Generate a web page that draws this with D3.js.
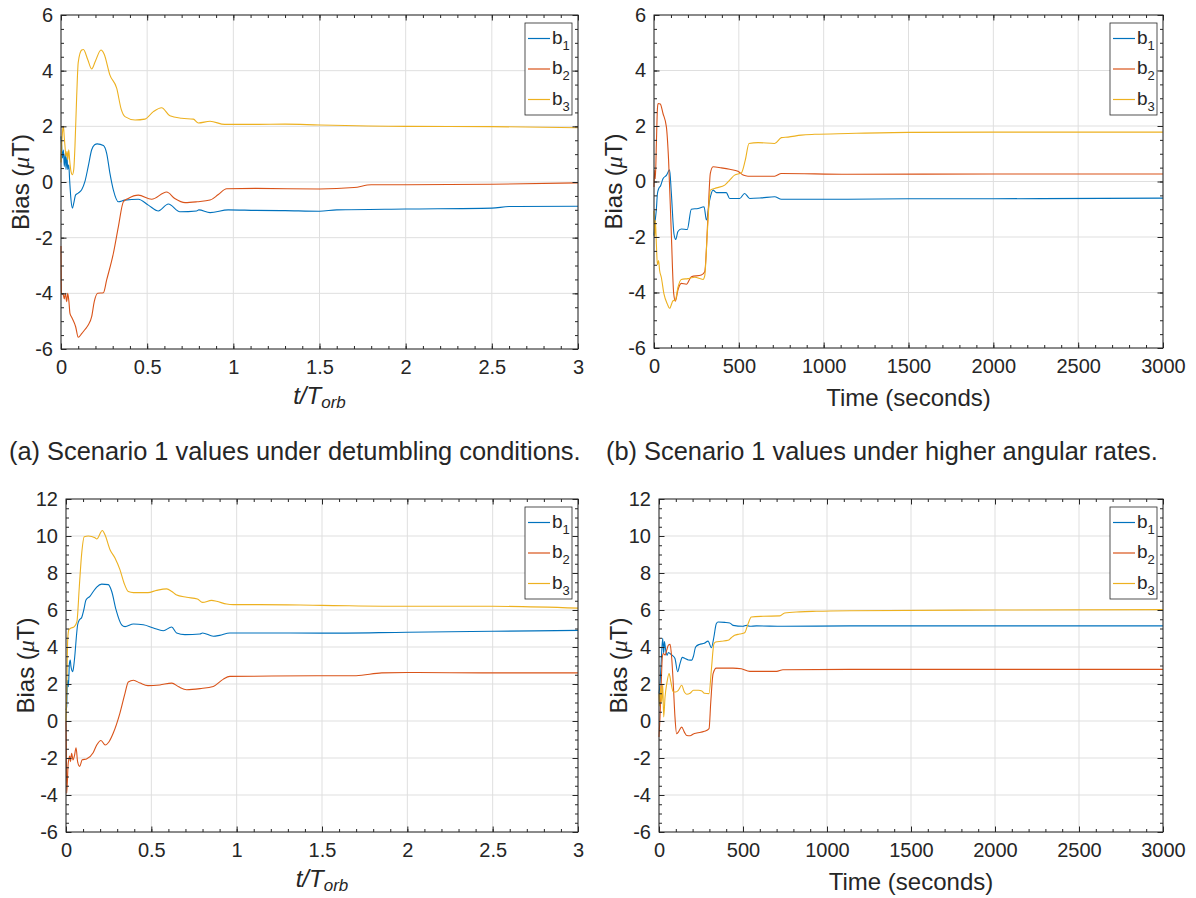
<!DOCTYPE html>
<html>
<head>
<meta charset="utf-8">
<script src="https://cdn.jsdelivr.net/npm/d3@7"></script>
<style>
  body { margin: 0; background: #fff; }
  text { font-family: "Liberation Sans", Arial, sans-serif; fill: #262626; }
</style>
</head>
<body>
<svg id="fig" width="1196" height="898"></svg>
<script>
// Tick values
var orbTicks = [0, 0.5, 1, 1.5, 2, 2.5, 3];
var timeTicks = [0, 500, 1000, 1500, 2000, 2500, 3000];
var biasTicksTop = [-6, -4, -2, 0, 2, 4, 6];
var biasTicksBottom = [-6, -4, -2, 0, 2, 4, 6, 8, 10, 12];
var seriesNames = ["1", "2", "3"];
var colors = ["#0072BD", "#D95319", "#EDB120"];

// (a) detumbling, x in t/T_orb
var a_b1 = [[0,1.64],[0.004,1.28],[0.008,0.86],[0.014,1.15],[0.019,0.56],[0.025,1.04],[0.029,0.45],[0.035,0.92],[0.039,0.45],[0.045,0.62],[0.05,0.08],[0.058,-0.64],[0.066,-0.94],[0.074,-0.76],[0.085,-0.46],[0.1,-0.4],[0.12,-0.28],[0.139,0.02],[0.158,0.56],[0.178,1.16],[0.195,1.34],[0.21,1.37],[0.246,1.31],[0.265,1.03],[0.284,0.31],[0.304,-0.29],[0.333,-0.71],[0.37,-0.65],[0.449,-0.62],[0.507,-0.83],[0.565,-1.04],[0.623,-0.79],[0.69,-1.07],[0.787,-1.04],[0.8,-1.0],[0.865,-1.1],[0.97,-1.0],[1.13,-1.02],[1.3,-1.03],[1.5,-1.05],[1.6,-1.0],[2,-0.97],[2.5,-0.94],[2.6,-0.88],[3,-0.87]];
var a_b2 = [[0,-2.3],[0.003,-4.0],[0.013,-4.05],[0.019,-4.2],[0.025,-4.0],[0.033,-4.3],[0.039,-4.0],[0.046,-4.3],[0.052,-4.72],[0.062,-4.86],[0.085,-5.2],[0.1,-5.58],[0.12,-5.45],[0.139,-5.3],[0.158,-5.14],[0.178,-4.84],[0.193,-4.3],[0.213,-4.0],[0.246,-3.98],[0.265,-3.52],[0.304,-2.56],[0.333,-1.6],[0.362,-0.71],[0.39,-0.59],[0.449,-0.47],[0.526,-0.62],[0.613,-0.36],[0.66,-0.59],[0.72,-0.74],[0.79,-0.71],[0.865,-0.65],[0.913,-0.45],[0.961,-0.24],[1.13,-0.23],[1.5,-0.25],[1.7,-0.2],[1.8,-0.1],[2,-0.1],[2.5,-0.08],[3,-0.03]];
var a_b3 = [[0,0.7],[0.004,1.3],[0.01,1.88],[0.014,2.0],[0.019,1.6],[0.023,1.3],[0.029,0.92],[0.035,1.1],[0.039,0.8],[0.045,1.16],[0.05,0.8],[0.058,0.38],[0.066,0.26],[0.074,0.45],[0.081,1.28],[0.091,3.08],[0.1,4.3],[0.12,4.74],[0.13,4.76],[0.155,4.4],[0.178,4.06],[0.2,4.35],[0.232,4.74],[0.25,4.6],[0.284,3.84],[0.323,3.37],[0.35,2.6],[0.371,2.35],[0.43,2.23],[0.487,2.26],[0.536,2.53],[0.584,2.67],[0.632,2.38],[0.7,2.29],[0.768,2.26],[0.797,2.12],[0.865,2.18],[0.95,2.07],[1.13,2.07],[1.3,2.08],[1.5,2.05],[2,2.0],[2.5,1.99],[3,1.95]];

// (b) higher angular rates, x in seconds
var b_b1 = [[0,-1.95],[4,-1.6],[14,-1.0],[20,-0.45],[27,-0.27],[39,-0.15],[53,0.1],[73,0.22],[92,0.42],[102,-0.4],[118,-1.9],[128,-2.09],[141,-1.8],[161,-1.71],[196,-1.73],[220,-1.0],[260,-0.97],[295,-0.91],[309,-1.39],[328,-0.67],[348,-0.31],[368,-0.4],[426,-0.4],[446,-0.61],[505,-0.61],[534,-0.43],[564,-0.61],[633,-0.59],[711,-0.55],[751,-0.64],[1143,-0.64],[1500,-0.62],[2000,-0.62],[3000,-0.6]];
var b_b2 = [[0,-0.2],[4,0.4],[8,0.1],[14,1.36],[20,2.6],[24,2.81],[37,2.79],[53,2.45],[73,1.97],[86,0.77],[102,-1.87],[116,-4.03],[126,-4.31],[141,-3.91],[161,-3.67],[191,-3.7],[220,-3.43],[279,-3.37],[299,-3.25],[318,-1.27],[332,0.29],[348,0.53],[397,0.49],[446,0.44],[495,0.37],[525,0.23],[554,0.19],[711,0.19],[751,0.29],[1143,0.26],[2000,0.27],[3000,0.27]];
var b_b3 = [[0,-1.05],[4,-2.0],[8,-1.4],[14,-2.25],[20,-3.0],[27,-2.85],[33,-3.2],[43,-3.45],[59,-4.06],[79,-4.42],[92,-4.57],[112,-4.3],[126,-4.27],[141,-3.82],[161,-3.53],[200,-3.5],[240,-3.45],[289,-3.53],[299,-3.4],[314,-1.87],[332,-0.31],[368,-0.23],[417,-0.13],[446,0.05],[475,0.23],[515,0.31],[538,0.77],[560,1.37],[613,1.4],[711,1.37],[751,1.58],[790,1.6],[868,1.67],[947,1.7],[1143,1.73],[1500,1.77],[2000,1.78],[3000,1.78]];

// (c) detumbling, x in t/T_orb
var c_b1 = [[0,0.6],[0.004,0.77],[0.006,1.5],[0.01,2.2],[0.014,1.85],[0.02,3.1],[0.025,3.3],[0.029,2.95],[0.039,2.67],[0.045,2.95],[0.053,3.66],[0.06,4.47],[0.068,5.19],[0.078,5.46],[0.092,5.6],[0.104,6.0],[0.117,6.54],[0.14,6.74],[0.16,7.0],[0.18,7.24],[0.209,7.4],[0.248,7.37],[0.268,7.0],[0.293,6.02],[0.326,5.2],[0.346,5.1],[0.395,5.24],[0.453,5.2],[0.512,5.03],[0.57,4.88],[0.619,5.08],[0.648,4.76],[0.697,4.67],[0.785,4.7],[0.8,4.76],[0.863,4.58],[0.9,4.63],[0.96,4.76],[1.13,4.76],[1.5,4.75],[2,4.8],[2.5,4.85],[3,4.9]];
var c_b2 = [[0,0],[0.002,-1.5],[0.004,-3.9],[0.008,-3.3],[0.012,-2.4],[0.016,-2.1],[0.022,-1.9],[0.026,-2.2],[0.033,-1.75],[0.041,-2.1],[0.049,-1.9],[0.059,-1.45],[0.068,-2.2],[0.08,-2.45],[0.095,-2.1],[0.12,-2.05],[0.16,-1.7],[0.18,-1.3],[0.205,-1.05],[0.23,-1.3],[0.25,-1.15],[0.277,-0.65],[0.316,0.43],[0.346,1.51],[0.365,2.11],[0.395,2.2],[0.434,2.05],[0.48,1.91],[0.55,1.95],[0.62,2.05],[0.66,1.85],[0.707,1.69],[0.785,1.75],[0.863,1.87],[0.92,2.25],[0.96,2.41],[1.1,2.42],[1.5,2.45],[1.7,2.45],[1.85,2.6],[2,2.62],[2.5,2.6],[3,2.6]];
var c_b3 = [[0,0],[0.004,1.5],[0.01,4.38],[0.016,4.92],[0.025,5.0],[0.049,5.1],[0.064,5.37],[0.078,7.26],[0.092,9.06],[0.107,9.96],[0.131,10.0],[0.17,9.9],[0.18,9.84],[0.213,10.3],[0.229,10.05],[0.258,9.26],[0.287,8.81],[0.316,8.18],[0.34,7.46],[0.365,7.0],[0.395,6.94],[0.48,6.94],[0.531,7.06],[0.59,7.14],[0.62,7.0],[0.645,6.83],[0.707,6.69],[0.77,6.59],[0.8,6.41],[0.853,6.52],[0.883,6.47],[0.941,6.32],[0.98,6.29],[1.13,6.29],[1.5,6.25],[2,6.2],[2.5,6.2],[3,6.1]];

// (d) higher angular rates, x in seconds
var d_b1 = [[0,1.48],[6,2.0],[12,3.0],[22,4.47],[28,3.65],[32,4.29],[40,3.83],[48,3.55],[56,3.7],[65,3.65],[79,3.55],[95,3.38],[111,2.66],[125,3.1],[139,3.44],[155,3.38],[175,3.3],[195,3.29],[205,3.5],[218,4.0],[240,4.14],[270,4.2],[292,4.32],[312,3.96],[326,4.5],[341,5.26],[352,5.35],[391,5.33],[421,5.3],[441,5.17],[500,5.12],[520,5.17],[540,5.12],[580,5.14],[738,5.12],[1135,5.14],[2000,5.14],[3000,5.14]];
var d_b2 = [[0,-0.87],[6,0.2],[12,1.66],[20,3.47],[26,3.65],[36,3.56],[46,3.83],[56,4.1],[66,4.14],[75,3.47],[85,2.0],[95,0.22],[105,-0.69],[115,-0.6],[135,-0.33],[151,-0.6],[165,-0.78],[185,-0.8],[205,-0.7],[225,-0.65],[270,-0.56],[298,-0.41],[308,1.0],[322,2.56],[341,2.86],[440,2.86],[490,2.82],[540,2.68],[700,2.68],[738,2.77],[1135,2.79],[3000,2.79]];
var d_b3 = [[0,1.48],[4,0.8],[10,1.9],[16,1.0],[22,2.0],[28,0.22],[36,1.3],[46,2.0],[60,2.57],[71,2.1],[85,1.57],[99,1.57],[115,1.66],[135,1.93],[151,1.57],[165,1.45],[185,1.5],[205,1.66],[235,1.66],[255,1.62],[270,1.5],[298,1.48],[312,2.8],[327,4.18],[337,4.27],[371,4.31],[411,4.36],[430,4.5],[450,4.63],[480,4.7],[510,4.77],[530,5.25],[550,5.62],[619,5.66],[719,5.68],[748,5.84],[837,5.9],[936,5.93],[1135,5.96],[2000,6.0],[3000,6.02]];

var captions = ["(a) Scenario 1 values under detumbling conditions.",
                "(b) Scenario 1 values under higher angular rates."];

var svg = d3.select("#fig");

var panels = [
  { left: 61,  right: 578,  top: 15,  bottom: 349, xDomain: [0, 3],    xTicks: orbTicks,  xMinor: 0.1, yDomain: [-6, 6],  yTicks: biasTicksTop,    xlab: "orb",  series: [a_b1, a_b2, a_b3] },
  { left: 654, right: 1163, top: 15,  bottom: 348, xDomain: [0, 3000], xTicks: timeTicks, xMinor: 100, yDomain: [-6, 6],  yTicks: biasTicksTop,    xlab: "time", series: [b_b1, b_b2, b_b3] },
  { left: 66,  right: 578,  top: 499, bottom: 832, xDomain: [0, 3],    xTicks: orbTicks,  xMinor: 0.1, yDomain: [-6, 12], yTicks: biasTicksBottom, xlab: "orb",  series: [c_b1, c_b2, c_b3] },
  { left: 659, right: 1163, top: 499, bottom: 832, xDomain: [0, 3000], xTicks: timeTicks, xMinor: 100, yDomain: [-6, 12], yTicks: biasTicksBottom, xlab: "time", series: [d_b1, d_b2, d_b3] }
];

function drawPanel(p) {
  var x = d3.scaleLinear().domain(p.xDomain).range([p.left, p.right]);
  var y = d3.scaleLinear().domain(p.yDomain).range([p.bottom, p.top]);
  var g = svg.append("g");
  var fmt = function(d) { return String(d); };

  // grid
  g.selectAll(".gx").data(p.xTicks).enter().append("line")
    .attr("x1", d => x(d)).attr("x2", d => x(d))
    .attr("y1", p.top).attr("y2", p.bottom)
    .attr("stroke", "#dfdfdf").attr("stroke-width", 1);
  g.selectAll(".gy").data(p.yTicks).enter().append("line")
    .attr("x1", p.left).attr("x2", p.right)
    .attr("y1", d => y(d)).attr("y2", d => y(d))
    .attr("stroke", "#dfdfdf").attr("stroke-width", 1);

  // data lines
  var line = d3.line()
    .x(d => x(d[0]))
    .y(d => y(d[1]))
    .curve(d3.curveMonotoneX);
  p.series.forEach(function(s, i) {
    g.append("path").datum(s)
      .attr("d", line)
      .attr("fill", "none")
      .attr("stroke", colors[i])
      .attr("stroke-width", 1.1);
  });

  // ticks on all four sides
  var xMinor = d3.range(p.xDomain[0], p.xDomain[1] + p.xMinor / 2, p.xMinor);
  var yMinor = d3.range(p.yDomain[0], p.yDomain[1] + 0.25, 0.5);

  function axis(maker, scale, values, len, labels, tx, ty, pad) {
    var a = maker(scale).tickValues(values).tickSizeInner(-len).tickSizeOuter(0).tickPadding(pad || 0);
    a.tickFormat(labels ? fmt : "");
    var ag = g.append("g").attr("transform", "translate(" + tx + "," + ty + ")").call(a);
    ag.select(".domain").remove();
    ag.selectAll("line").attr("stroke", "#262626");
    ag.selectAll("text").attr("font-size", 20).attr("fill", "#262626")
      .attr("font-family", "Liberation Sans, Arial, sans-serif");
    return ag;
  }
  axis(d3.axisBottom, x, xMinor, 3, false, 0, p.bottom);
  axis(d3.axisTop, x, xMinor, 3, false, 0, p.top);
  axis(d3.axisLeft, y, yMinor, 3, false, p.left, 0);
  axis(d3.axisRight, y, yMinor, 3, false, p.right, 0);
  axis(d3.axisBottom, x, p.xTicks, 5.5, true, 0, p.bottom, 11);
  axis(d3.axisTop, x, p.xTicks, 5.5, false, 0, p.top);
  axis(d3.axisLeft, y, p.yTicks, 5.5, true, p.left, 0, 8);
  axis(d3.axisRight, y, p.yTicks, 5.5, false, p.right, 0);

  g.append("rect")
    .attr("x", p.left).attr("y", p.top)
    .attr("width", p.right - p.left).attr("height", p.bottom - p.top)
    .attr("fill", "none").attr("stroke", "#262626").attr("stroke-width", 1);

  // y label
  var cy = (p.top + p.bottom) / 2;
  var yl = g.append("text")
    .attr("transform", "translate(" + (p.left - 32) + "," + cy + ") rotate(-90)")
    .attr("text-anchor", "middle")
    .attr("font-size", 24);
  yl.append("tspan").text("Bias (");
  yl.append("tspan").attr("font-family", "Liberation Serif, serif").attr("font-style", "italic").text("\u03bc");
  yl.append("tspan").text("T)");

  // x label
  var cx = (p.left + p.right) / 2;
  if (p.xlab === "orb") {
    var xl = g.append("text")
      .attr("x", cx).attr("y", p.bottom + 55)
      .attr("text-anchor", "middle")
      .attr("font-family", "Liberation Serif, serif")
      .attr("font-style", "italic")
      .attr("font-size", 24);
    xl.append("tspan").text("t/T");
    xl.append("tspan").attr("font-size", 17).attr("dy", 4).text("orb");
  } else {
    g.append("text")
      .attr("x", cx).attr("y", p.bottom + 58)
      .attr("text-anchor", "middle")
      .attr("font-size", 24)
      .text("Time (seconds)");
  }

  // legend
  var lx = p.right - 53, ly = p.top + 8;
  g.append("rect")
    .attr("x", lx).attr("y", ly).attr("width", 47).attr("height", 92)
    .attr("fill", "#fff").attr("stroke", "#262626").attr("stroke-width", 0.8);
  seriesNames.forEach(function(n, i) {
    var yy = ly + 15.5 + i * 30.5;
    g.append("line")
      .attr("x1", lx + 3).attr("x2", lx + 25)
      .attr("y1", yy).attr("y2", yy)
      .attr("stroke", colors[i]).attr("stroke-width", 1.2);
    var t = g.append("text").attr("x", lx + 27).attr("y", yy + 5).attr("font-size", 19);
    t.append("tspan").text("b");
    t.append("tspan").attr("font-size", 13).attr("dy", 6).text(n);
  });
}

panels.forEach(drawPanel);

// captions under the top row
svg.append("text").attr("x", 9).attr("y", 460).attr("font-size", 25.4).text(captions[0]);
svg.append("text").attr("x", 606).attr("y", 460).attr("font-size", 25.4).text(captions[1]);
</script>
</body>
</html>
